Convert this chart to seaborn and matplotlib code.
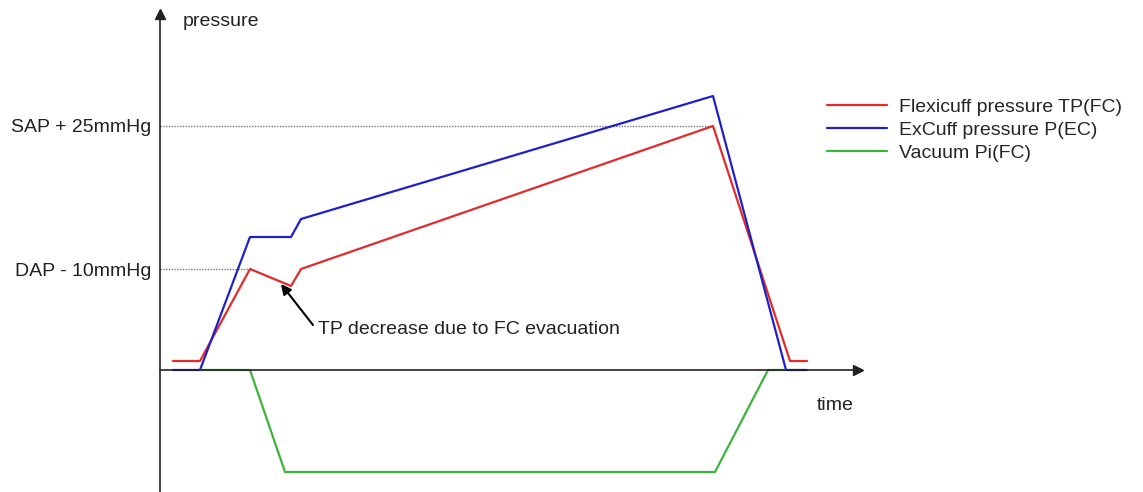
import pandas as pd
import matplotlib
matplotlib.use("Agg")
import matplotlib.pyplot as plt
import seaborn as sns

# schematic values (time, pressure), arbitrary units
red_t = [13, 40, 90, 131, 141, 553, 630, 647]
red_p = [9, 9, 101, 84, 101, 244, 9, 9]
blue_t = [13, 40, 90, 131, 141, 553, 626, 647]
blue_p = [0, 0, 133, 133, 151, 274, 0, 0]
green_t = [40, 90, 125, 555, 608, 626]
green_p = [0, 0, -102, -102, 0, 0]

labels = ["Flexicuff pressure TP(FC)", "ExCuff pressure P(EC)", "Vacuum Pi(FC)"]
colors = ["#e32b2b", "#2020c8", "#3cb43c"]
sap_level = 244
dap_level = 101

df = pd.concat([
    pd.DataFrame({"t": red_t, "p": red_p, "series": labels[0]}),
    pd.DataFrame({"t": blue_t, "p": blue_p, "series": labels[1]}),
    pd.DataFrame({"t": green_t, "p": green_p, "series": labels[2]}),
])

sns.set_style("white")
plt.rcParams['font.family'] = ['Liberation Sans', 'DejaVu Sans']

fig = plt.figure(figsize=(11.43, 4.92), dpi=100)
ax = fig.add_axes([0, 0, 1, 1])

# dotted reference levels
ax.plot([0, 553], [sap_level, sap_level], color="#777777", lw=1, ls=(0, (1, 1)))
ax.plot([0, 90], [dap_level, dap_level], color="#777777", lw=1, ls=(0, (1, 1)))

sns.lineplot(data=df, x="t", y="p", hue="series", palette=dict(zip(labels, colors)),
             estimator=None, sort=False, lw=1.6, ax=ax)

ax.set_xlim(-160, 983)
ax.set_ylim(-122, 370)

for s in ["top", "right"]:
    ax.spines[s].set_visible(False)
ax.spines["left"].set_position(("data", 0))
ax.spines["bottom"].set_position(("data", 0))
ax.spines["left"].set_bounds(-122, 352)
ax.spines["bottom"].set_bounds(0, 695)
for s in ["left", "bottom"]:
    ax.spines[s].set_color("#222222")
    ax.spines[s].set_linewidth(1.2)
ax.plot(0, 356, "^", color="#222222", ms=7, clip_on=False)
ax.plot(698, 0, ">", color="#222222", ms=7, clip_on=False)

ax.set_xticks([])
ax.set_yticks([sap_level, dap_level], ["SAP + 25mmHg", "DAP - 10mmHg"])
ax.tick_params(axis="y", length=0, pad=6, labelsize=14, labelcolor="#222222")
ax.set_xlabel("")
ax.set_ylabel("")

ax.text(23, 348, "pressure", fontsize=14, color="#222222", va="center", ha="left")
ax.text(657, -35, "time", fontsize=14, color="#222222", va="center", ha="left")

# annotation arrow pointing at the TP dip
ax.annotate("", xy=(121, 86), xytext=(153, 45),
            arrowprops=dict(arrowstyle="-|>", color="black", lw=1.5,
                            shrinkA=0, shrinkB=0, mutation_scale=15))
ax.text(158, 40, "TP decrease due to FC evacuation", fontsize=14, color="#222222",
        va="center", ha="left")

ax.legend(loc="upper left", bbox_to_anchor=(827 / 1143, 0.80), frameon=False,
          fontsize=14, handlelength=3.1, handletextpad=0.6, labelspacing=0.27,
          borderpad=0, borderaxespad=0)

fig.savefig("out.png", dpi=100)
